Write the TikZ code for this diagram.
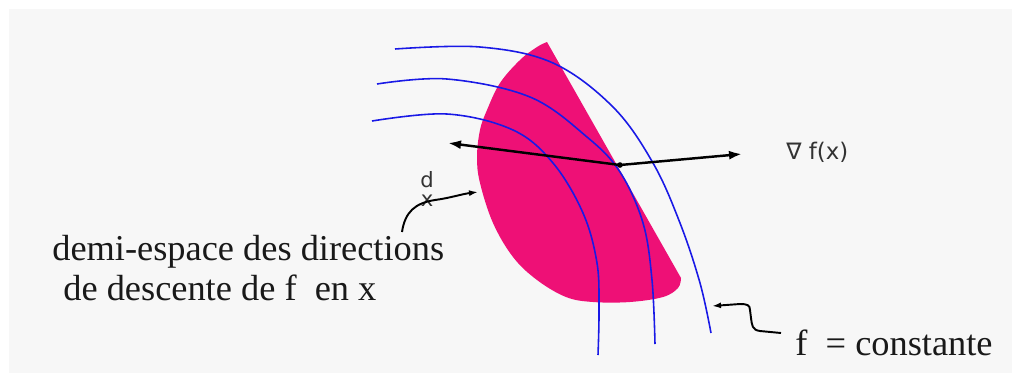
\documentclass[tikz,border=0pt]{standalone}
\usepackage{fontspec}
\setmainfont{Liberation Serif}
\newfontfamily\gradfont{DejaVu Sans}
\usetikzlibrary{arrows.meta}
\definecolor{half}{RGB}{238,16,118}
\definecolor{level}{RGB}{25,25,230}
\definecolor{paper}{RGB}{247,247,247}

\begin{document}
\begin{tikzpicture}[x=0.02cm, y=-0.02cm,
  level/.style={draw=level, line width=0.9pt},
  grad/.style={{Latex[length=2.6mm, width=1.8mm]}-{Latex[length=2.6mm, width=1.8mm]}, line width=1.4pt, black},
  hint/.style={-{Latex[length=1.8mm, width=1.2mm]}, line width=1.1pt, black},
  lbl/.style={inner sep=0pt, anchor=base west, text=black!90, font=\fontsize{20.7}{24}\selectfont},
  small/.style={inner sep=0pt, text=black!80, font=\gradfont\fontsize{13}{15}\selectfont}]

\useasboundingbox (0,0) rectangle (1021,383);
\fill[paper] (9,9) rectangle (1012,373);

% half-space of descent directions
\fill[half] (547,42) -- (681,278) -- plot[smooth, tension=0.6] coordinates {(681,278) (678,288) (663,297) (630,302) (593,302) (566,297) (537,280) (513,257) (493,223) (480,183) (477,157) (480,130) (487,110) (500,83) (520,60) (537,47) (547,42)} -- cycle;

% level curves
\draw[level] plot[smooth, tension=0.6] coordinates {(395,49) (480,47) (553,63) (613,107) (653,163) (680,223) (700,283) (711,333)};
\draw[level] plot[smooth, tension=0.6] coordinates {(377,84) (447,79) (530,97) (587,137) (620,172) (643,223) (652,280) (655,344)};
\draw[level] plot[smooth, tension=0.6] coordinates {(372,121) (447,114) (513,130) (553,163) (583,213) (597,263) (599,310) (598,355)};

% gradient and its opposite through x
\coordinate (ptx) at (620,165);
\coordinate (dtip) at (448,143);
\coordinate (gtip) at (742,154);
\draw[grad] (dtip) -- (ptx) -- (gtip);
\fill (ptx) circle (1.6pt);
\node[small, anchor=base west] (gradlbl) at (786,159) {∇ f(x)};

% labels
\node[small, font=\gradfont\fontsize{12}{10.5}\selectfont, align=center] (dlbl) at (427,189) {d\\x};
\node[lbl] (demiA) at (52,260) {demi-espace des directions};
\node[lbl] (demiB) at (63,300) {de descente de f~ en x};
\node[lbl] (fconst) at (795,355) {f\ \ = constante};

% pointers
\coordinate (dstart) at (402,232);
\coordinate (dend) at (478,192);
\draw[hint] (dstart) .. controls (405,212) and (415,203) .. (435,200) .. controls (450,198) and (462,194) .. (dend);
\coordinate (fstart) at (781,333);
\coordinate (fend) at (712,306);
\draw[hint] (fstart) -- (760,331) .. controls (752,330) and (752,325) .. (751,318) -- (750,310) .. controls (750,305) and (747,304) .. (740,304) -- (fend);
\end{tikzpicture}
\end{document}
